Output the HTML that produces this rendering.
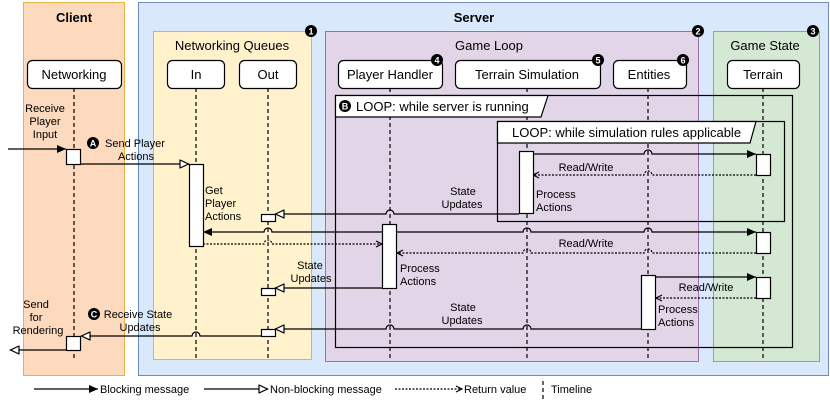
<!DOCTYPE html>
<html><head><meta charset="utf-8"><style>
body{margin:0;background:#fff}
svg{display:block;font-family:"Liberation Sans",sans-serif}
</style></head><body>
<svg width="830" height="407" viewBox="0 0 830 407" xmlns="http://www.w3.org/2000/svg">
<defs>
<marker id="f" markerWidth="10" markerHeight="8" refX="9" refY="4" orient="auto" markerUnits="userSpaceOnUse"><path d="M0,0 L9,4 L0,8 Z" fill="#000"/></marker>
<marker id="o" markerWidth="11" markerHeight="9" refX="10" refY="4.5" orient="auto" markerUnits="userSpaceOnUse"><path d="M1,0.5 L9.5,4.5 L1,8.5 Z" fill="#fff" stroke="#000" stroke-width="1.2"/></marker>
<marker id="r" markerWidth="8" markerHeight="8" refX="7" refY="4" orient="auto" markerUnits="userSpaceOnUse"><path d="M1,1 L7,4 L1,7" fill="none" stroke="#000" stroke-width="1.2"/></marker>
</defs>
<!-- containers -->
<rect x="23.5" y="2.5" width="101" height="373" fill="#fdd9bd" stroke="#d79b00" stroke-opacity="0.7"/>
<rect x="138.5" y="2.5" width="690" height="373" fill="#dae8fc" stroke="#6c8ebf"/>
<rect x="153.5" y="31.5" width="158" height="328" fill="#fff2cc" stroke="#d6b656"/>
<rect x="325.5" y="31.5" width="373" height="330" fill="#e1d5e7" stroke="#9673a6"/>
<rect x="713.5" y="31.5" width="106" height="330" fill="#d5e8d4" stroke="#82b366"/>
<g font-size="13" text-anchor="middle">
<text x="74" y="22" font-weight="bold">Client</text>
<text x="474" y="22" font-weight="bold">Server</text>
<text x="232" y="50">Networking Queues</text>
<text x="489" y="50">Game Loop</text>
<text x="765" y="50">Game State</text>
</g>
<!-- lifelines -->
<g stroke="#000" stroke-dasharray="4,3" stroke-width="1.2">
<line x1="74" y1="88" x2="74" y2="361"/>
<line x1="196" y1="88" x2="196" y2="359"/>
<line x1="268" y1="88" x2="268" y2="359"/>
<line x1="390" y1="88" x2="390" y2="361"/>
<line x1="527" y1="88" x2="527" y2="361"/>
<line x1="648" y1="88" x2="648" y2="361"/>
<line x1="763" y1="88" x2="763" y2="361"/>
</g>
<!-- loops -->
<rect x="335.5" y="95.5" width="457" height="252" fill="none" stroke="#000" stroke-width="1.2"/>
<path d="M335.5,95.5 H548 L541,117 H335.5 Z" fill="#fff" stroke="#000" stroke-width="1.2"/>
<rect x="497.5" y="121.5" width="287" height="100" fill="none" stroke="#000" stroke-width="1.2"/>
<path d="M497.5,121.5 H756 L750,143 H497.5 Z" fill="#fff" stroke="#000" stroke-width="1.2"/>
<g font-size="13">
<text x="356" y="111">LOOP: while server is running</text>
<text x="512" y="137">LOOP: while simulation rules applicable</text>
</g>
<!-- lifeline heads -->
<g fill="#fff" stroke="#000" stroke-width="1.2">
<rect x="27.5" y="60.5" width="94" height="28" rx="5"/>
<rect x="167.5" y="60.5" width="57" height="28" rx="5"/>
<rect x="239.5" y="60.5" width="57" height="28" rx="5"/>
<rect x="338.5" y="60.5" width="104" height="28" rx="5"/>
<rect x="455.5" y="60.5" width="145" height="28" rx="5"/>
<rect x="613.5" y="60.5" width="73" height="28" rx="5"/>
<rect x="727.5" y="60.5" width="72" height="28" rx="5"/>
</g>
<g font-size="13" text-anchor="middle">
<text x="74" y="79">Networking</text>
<text x="196" y="79">In</text>
<text x="268" y="79">Out</text>
<text x="390" y="79">Player Handler</text>
<text x="527" y="79">Terrain Simulation</text>
<text x="649" y="79">Entities</text>
<text x="763" y="79">Terrain</text>
</g>
<!-- badges -->
<g font-size="9" font-weight="bold" text-anchor="middle">
<circle cx="311" cy="31" r="6"/><text x="311" y="34.5" fill="#fff">1</text>
<circle cx="698" cy="31" r="6"/><text x="698" y="34.5" fill="#fff">2</text>
<circle cx="813" cy="31" r="6"/><text x="813" y="34.5" fill="#fff">3</text>
<circle cx="437" cy="60" r="6"/><text x="437" y="63.5" fill="#fff">4</text>
<circle cx="598" cy="60" r="6"/><text x="598" y="63.5" fill="#fff">5</text>
<circle cx="683" cy="60" r="6"/><text x="683" y="63.5" fill="#fff">6</text>
<circle cx="345" cy="106" r="6"/><text x="345" y="109.5" fill="#fff">B</text>
<circle cx="93" cy="143" r="6"/><text x="93" y="146.5" fill="#fff">A</text>
<circle cx="94" cy="314" r="6"/><text x="94" y="317.5" fill="#fff">C</text>
</g>
<!-- messages -->
<g fill="none" stroke="#000" stroke-width="1.2">
<line x1="8" y1="149" x2="66" y2="149" marker-end="url(#f)"/>
<line x1="81" y1="164" x2="189" y2="164" marker-end="url(#o)"/>
<path d="M533,154 H644 A4,4 0 0 1 652,154 H756" marker-end="url(#f)"/>
<path d="M756,175 H652 A4,4 0 0 0 644,175 H533" stroke-dasharray="2,1.5" marker-end="url(#r)"/>
<path d="M519,214 H394 A4,4 0 0 0 386,214 H275" marker-end="url(#o)"/>
<path d="M382,232 H272 A4,4 0 0 0 264,232 H203" marker-end="url(#f)"/>
<path d="M203,244 H264 A4,4 0 0 1 272,244 H382" stroke-dasharray="2,1.5" marker-end="url(#r)"/>
<path d="M397,232 H523 A4,4 0 0 1 531,232 H644 A4,4 0 0 1 652,232 H756" marker-end="url(#f)"/>
<path d="M756,253 H652 A4,4 0 0 0 644,253 H531 A4,4 0 0 0 523,253 H397" stroke-dasharray="2,1.5" marker-end="url(#r)"/>
<line x1="382" y1="288" x2="275" y2="288" marker-end="url(#o)"/>
<line x1="656" y1="277" x2="756" y2="277" marker-end="url(#f)"/>
<line x1="756" y1="298" x2="656" y2="298" stroke-dasharray="2,1.5" marker-end="url(#r)"/>
<path d="M641,329 H531 A4,4 0 0 0 523,329 H394 A4,4 0 0 0 386,329 H275" marker-end="url(#o)"/>
<path d="M261,336 H200 A4,4 0 0 0 192,336 H81" marker-end="url(#o)"/>
<line x1="66" y1="350" x2="10" y2="350" marker-end="url(#o)"/>
</g>
<!-- activations -->
<g fill="#fff" stroke="#000" stroke-width="1.2">
<rect x="66.5" y="149.5" width="14" height="15"/>
<rect x="66.5" y="336.5" width="14" height="14"/>
<rect x="189.5" y="164.5" width="14" height="82"/>
<rect x="261.5" y="214.5" width="14" height="7"/>
<rect x="261.5" y="288.5" width="14" height="7"/>
<rect x="261.5" y="329.5" width="14" height="7"/>
<rect x="382.5" y="224.5" width="14" height="64"/>
<rect x="519.5" y="151.5" width="14" height="62"/>
<rect x="641.5" y="275.5" width="14" height="54"/>
<rect x="756.5" y="154.5" width="14" height="21"/>
<rect x="756.5" y="232.5" width="14" height="21"/>
<rect x="756.5" y="277.5" width="14" height="21"/>
</g>
<!-- labels -->
<g font-size="11" text-anchor="middle">
<text x="45" y="112">Receive</text><text x="45" y="125">Player</text><text x="45" y="138">Input</text>
<text x="135" y="147">Send Player</text><text x="136" y="160">Actions</text>
<text x="36" y="308">Send</text><text x="36" y="321">for</text><text x="38" y="334">Rendering</text>
<text x="138" y="318">Receive State</text><text x="140" y="331">Updates</text>
<text x="463" y="195">State</text><text x="462" y="208">Updates</text>
<text x="310" y="269">State</text><text x="311" y="282">Updates</text>
<text x="463" y="311">State</text><text x="462" y="324">Updates</text>
<text x="586" y="171">Read/Write</text>
<text x="586" y="247">Read/Write</text>
<text x="706" y="291">Read/Write</text>
</g>
<g font-size="11">
<text x="205" y="194">Get</text><text x="205" y="207">Player</text><text x="205" y="220">Actions</text>
<text x="536" y="198">Process</text><text x="536" y="211">Actions</text>
<text x="400" y="272">Process</text><text x="400" y="285">Actions</text>
<text x="658" y="313">Process</text><text x="658" y="326">Actions</text>
</g>
<!-- legend -->
<g fill="none" stroke="#000" stroke-width="1.2">
<line x1="34" y1="389" x2="98" y2="389" marker-end="url(#f)"/>
<line x1="204" y1="389" x2="268" y2="389" marker-end="url(#o)"/>
<line x1="395" y1="389" x2="462" y2="389" stroke-dasharray="2,1.5" marker-end="url(#r)"/>
<line x1="543" y1="381" x2="543" y2="401" stroke-dasharray="4,3"/>
</g>
<g font-size="11">
<text x="100" y="393">Blocking message</text>
<text x="270" y="393">Non-blocking message</text>
<text x="464" y="393">Return value</text>
<text x="551" y="393">Timeline</text>
</g>
</svg>
</body></html>
